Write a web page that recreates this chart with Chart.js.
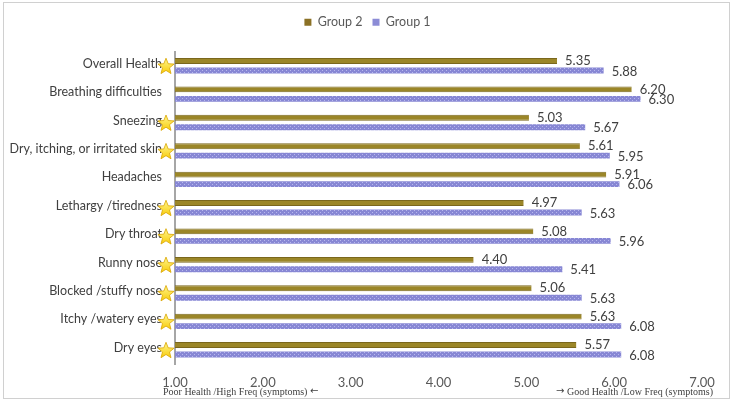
<!DOCTYPE html>
<html>
<head>
<meta charset="utf-8">
<script src="https://cdn.jsdelivr.net/npm/chart.js@4/dist/chart.umd.min.js"></script>
<style>
  html, body { margin: 0; padding: 0; background: #ffffff; }
  #wrap { width: 738px; height: 407px; }
</style>
</head>
<body>
<div id="wrap"><canvas id="c" width="738" height="407"></canvas></div>
<script>
const categories = [
  'Overall Health', 'Breathing difficulties', 'Sneezing', 'Dry, itching, or irritated skin',
  'Headaches', 'Lethargy /tiredness', 'Dry throat', 'Runny nose',
  'Blocked /stuffy nose', 'Itchy /watery eyes', 'Dry eyes'
];
const group2 = [5.35, 6.20, 5.03, 5.61, 5.91, 4.97, 5.08, 4.40, 5.06, 5.63, 5.57];
const group1 = [5.88, 6.30, 5.67, 5.95, 6.06, 5.63, 5.96, 5.41, 5.63, 6.08, 6.08];
const starred = [true, false, true, true, false, true, true, true, true, true, true];
const xTicks = [1, 2, 3, 4, 5, 6, 7];
const noteLeft = 'Poor Health /High Freq (symptoms)';
const noteRight = 'Good Health /Low Freq (symptoms)';
const arrowLeft = '\u2190';
const arrowRight = '\u2192';

// dotted pattern for Group 1
function makePattern() {
  const pc = document.createElement('canvas');
  pc.width = 4; pc.height = 4;
  const p = pc.getContext('2d');
  p.fillStyle = '#8787d4';
  p.fillRect(0, 0, 4, 4);
  p.fillStyle = '#b8b8ee';
  p.fillRect(0, 0, 1, 1);
  p.fillRect(2, 2, 1, 1);
  return document.getElementById('c').getContext('2d').createPattern(pc, 'repeat');
}
const bluePattern = makePattern();

const FONT = 'Lato, "Open Sans", sans-serif';

const framePlugin = {
  id: 'frame',
  beforeDraw(chart) {
    const ctx = chart.ctx;
    ctx.save();
    ctx.fillStyle = '#ffffff';
    ctx.fillRect(0, 0, chart.width, chart.height);
    ctx.strokeStyle = '#d0d0d0';
    ctx.lineWidth = 1;
    ctx.strokeRect(3.5, 2.5, 726, 396);
    ctx.restore();
  }
};

const legendSpace = {
  id: 'legendSpace',
  beforeInit(chart) {
    const lg = chart.legend;
    if (lg && !lg._patched) {
      const fit = lg.fit;
      lg.fit = function () { fit.call(this); this.height += 13; };
      lg._patched = true;
    }
  },
  afterLayout(chart) {
    if (chart.legend) chart.legend.left += 33;
  }
};

function drawStar(ctx, cx, cy, R, r) {
  ctx.beginPath();
  for (let k = 0; k < 10; k++) {
    const rad = k % 2 === 0 ? R : r;
    const a = -Math.PI / 2 + k * Math.PI / 5;
    const px = cx + rad * Math.cos(a), py = cy + rad * Math.sin(a);
    if (k === 0) ctx.moveTo(px, py); else ctx.lineTo(px, py);
  }
  ctx.closePath();
}

const annotate = {
  id: 'annotate',
  afterDatasetsDraw(chart) {
    const ctx = chart.ctx;
    const xs = chart.scales.x, ys = chart.scales.y;
    ctx.save();
    // value labels
    ctx.font = '13px ' + FONT;
    ctx.fillStyle = '#404040';
    ctx.textAlign = 'left';
    ctx.textBaseline = 'middle';
    chart.data.datasets.forEach((ds, di) => {
      const meta = chart.getDatasetMeta(di);
      meta.data.forEach((bar, i) => {
        const dy = di === 0 ? 0 : 1;
        ctx.fillText(ds.data[i].toFixed(2), bar.x + 8, bar.y + dy);
      });
    });
    // stars
    const sx = xs.getPixelForValue(xTicks[0]) - 9;
    starred.forEach((s, i) => {
      if (!s) return;
      const cy = ys.getPixelForValue(i) + 1;
      const g = ctx.createLinearGradient(0, cy - 8, 0, cy + 8);
      g.addColorStop(0, '#fff58a');
      g.addColorStop(1, '#f7c800');
      drawStar(ctx, sx, cy, 8.5, 3.7);
      ctx.fillStyle = g;
      ctx.fill();
      ctx.strokeStyle = '#d9a400';
      ctx.lineWidth = 0.8;
      ctx.stroke();
    });
    // bottom notes
    const serif = '10px "Liberation Serif", "DejaVu Serif", serif';
    const arrowFont = '10px "DejaVu Sans", sans-serif';
    ctx.fillStyle = '#404040';
    ctx.textBaseline = 'middle';
    ctx.textAlign = 'left';
    const lx = xs.getPixelForValue(xTicks[0]) - 12;
    ctx.font = serif;
    ctx.fillText(noteLeft, lx, 392);
    const lw = ctx.measureText(noteLeft + ' ').width;
    ctx.font = arrowFont;
    ctx.fillText(arrowLeft, lx + lw, 391);
    const rx = xs.getPixelForValue(xTicks[xTicks.length - 1]) + 11;
    ctx.font = serif;
    ctx.textAlign = 'right';
    ctx.fillText(noteRight, rx, 392);
    const rw = ctx.measureText(' ' + noteRight).width;
    ctx.font = arrowFont;
    ctx.fillText(arrowRight, rx - rw, 391);
    ctx.restore();
  }
};

new Chart(document.getElementById('c'), {
  type: 'bar',
  data: {
    labels: categories,
    datasets: [
      {
        label: 'Group 2',
        data: group2,
        backgroundColor: '#9b8628',
        borderColor: '#7a671d',
        borderWidth: { top: 1, bottom: 1, left: 0, right: 0 },
        borderSkipped: false,
        categoryPercentage: 0.667,
        barPercentage: 0.62
      },
      {
        label: 'Group 1',
        data: group1,
        backgroundColor: bluePattern,
        borderWidth: 0,
        categoryPercentage: 0.667,
        barPercentage: 0.62
      }
    ]
  },
  options: {
    indexAxis: 'y',
    responsive: false,
    animation: false,
    devicePixelRatio: 1,
    layout: { padding: { top: 6, left: 0, right: 36, bottom: 0 } },
    plugins: {
      legend: {
        position: 'top',
        labels: {
          boxWidth: 7,
          boxHeight: 7,
          padding: 10,
          color: '#595959',
          font: { family: FONT, size: 12.5 },
          generateLabels(chart) {
            const cols = ['#8b7125', '#8c8cd6'];
            return chart.data.datasets.map((ds, i) => ({
              text: ds.label,
              fillStyle: cols[i],
              strokeStyle: cols[i],
              lineWidth: 0,
              hidden: false,
              datasetIndex: i,
              fontColor: '#595959'
            }));
          }
        }
      },
      tooltip: { enabled: false }
    },
    scales: {
      x: {
        type: 'linear',
        min: xTicks[0],
        max: xTicks[xTicks.length - 1],
        beginAtZero: false,
        afterFit(scale) { scale.height = 43; },
        afterBuildTicks(scale) { scale.ticks = xTicks.map(v => ({ value: v })); },
        grid: { display: false, drawTicks: false },
        border: { display: false },
        ticks: {
          padding: 11,
          color: '#595959',
          font: { family: FONT, size: 13 },
          callback: v => Number(v).toFixed(2),
          maxRotation: 0
        }
      },
      y: {
        afterFit(scale) { scale.width = 175; },
        grid: { display: false, drawTicks: false },
        border: { display: true, color: '#a6a6a6', width: 2 },
        ticks: {
          padding: 13,
          labelOffset: -2,
          color: '#404040',
          font: { family: FONT, size: 12.5 },
          autoSkip: false
        }
      }
    }
  },
  plugins: [framePlugin, legendSpace, annotate]
});
</script>
</body>
</html>
